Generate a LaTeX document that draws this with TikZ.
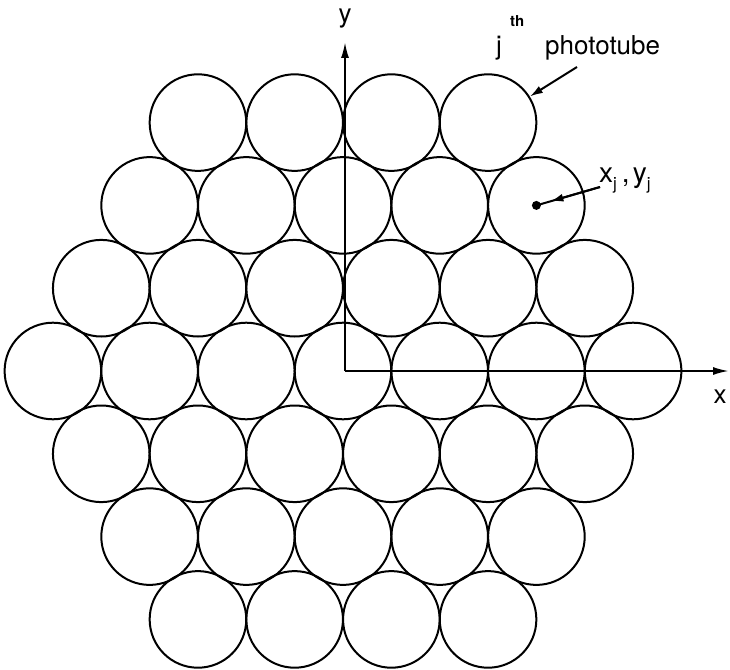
\documentclass[tikz,border=0pt]{standalone}
\usepackage{fontspec}
\setmainfont{TeX Gyre Heros}
\usetikzlibrary{arrows.meta,calc}
\tikzset{
  tube/.style={circle,draw,line width=2pt,inner sep=0pt,minimum size=96.6pt},
  axis/.style={line width=2pt,-{Latex[length=16pt,width=8pt]}},
  pointer/.style={line width=2pt,-{Latex[length=13pt,width=8pt]}},
  lbl/.style={inner sep=0pt,font=\fontsize{26}{30}\selectfont},
  sup/.style={inner sep=0pt,font=\fontsize{15}{16}\selectfont\bfseries},
  blackdot/.style={circle,fill,inner sep=0pt,minimum size=9pt}
}
\newcommand{\subj}{\lower7pt\hbox{\fontsize{17}{17}\selectfont j}}
\begin{document}
\begin{tikzpicture}[x=1pt,y=-1pt]
\useasboundingbox (0,0) rectangle (730,669);
% phototubes
\foreach \r in {-3,...,3} {
  \pgfmathtruncatemacro\n{6-abs(\r)}
  \pgfmathtruncatemacro\rr{\r+3}
  \foreach \i in {0,...,\n} {
    \node[tube] (t\rr-\i) at ({343+(\i-\n/2)*96.7},{371+\r*82.8}) {};
  }
}
% axes
\coordinate (O) at (345,371);
\coordinate (xend) at (729,371);
\coordinate (yend) at (345,42);
\draw[axis] (O) -- (xend);
\draw[axis] (O) -- (yend);
\node[lbl,anchor=base] (xlab) at (720,403) {x};
\node[lbl,anchor=base] (ylab) at (345,23) {y};
% j-th phototube label
\node[lbl,anchor=base west] (jlab) at (496,55) {j};
\node[sup,anchor=base west] (thlab) at (510,27) {th};
\node[lbl,anchor=base west] (photolab) at (545,55) {phototube};
\coordinate (jtail) at (577,67);
\draw[pointer] (jtail) -- (t0-3);
% x_j, y_j
\node[blackdot] (dot) at (t1-4.center) {};
\node[lbl,anchor=base west,font=\fontsize{28}{30}\selectfont] (xylab) at (599,182)
  {x\subj\hspace{5pt},\hspace{3pt}y\subj};
\coordinate (xtail) at (600,187);
\draw[line width=2pt] (xtail) -- (dot.center);
\draw[pointer] (xtail) -- ($(xtail)!0.78!(dot.center)$);
\end{tikzpicture}
\end{document}
